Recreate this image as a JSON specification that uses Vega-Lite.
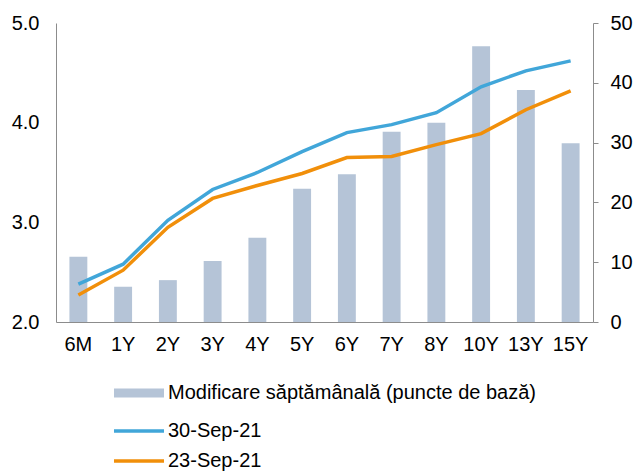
{
  "$schema": "https://vega.github.io/schema/vega-lite/v6.json",
  "autosize": "none",
  "width": 537,
  "height": 299,
  "padding": {"left": 56, "top": 23, "right": 41, "bottom": 149},
  "background": "white",
  "config": {
    "view": {"stroke": null},
    "font": "Liberation Sans",
    "axis": {"grid": false, "domainColor": "#8c8c8c", "tickColor": "#8c8c8c", "labelFontSize": 20, "labelColor": "#000", "labelFont": "Liberation Sans", "title": null}
  },
  "data": {
    "values": [
      {"tenor": "6M", "chg": 10.9, "s30": 2.38, "s23": 2.27},
      {"tenor": "1Y", "chg": 5.9, "s30": 2.58, "s23": 2.52},
      {"tenor": "2Y", "chg": 7.0, "s30": 3.02, "s23": 2.95},
      {"tenor": "3Y", "chg": 10.2, "s30": 3.33, "s23": 3.24},
      {"tenor": "4Y", "chg": 14.1, "s30": 3.50, "s23": 3.37},
      {"tenor": "5Y", "chg": 22.3, "s30": 3.71, "s23": 3.49},
      {"tenor": "6Y", "chg": 24.7, "s30": 3.90, "s23": 3.65},
      {"tenor": "7Y", "chg": 31.8, "s30": 3.98, "s23": 3.66},
      {"tenor": "8Y", "chg": 33.3, "s30": 4.10, "s23": 3.78},
      {"tenor": "10Y", "chg": 46.1, "s30": 4.36, "s23": 3.89},
      {"tenor": "13Y", "chg": 38.8, "s30": 4.52, "s23": 4.13},
      {"tenor": "15Y", "chg": 29.9, "s30": 4.62, "s23": 4.32}
    ]
  },
  "encoding": {
    "x": {
      "field": "tenor", "type": "nominal", "sort": null,
      "scale": {"paddingInner": 0.6, "paddingOuter": 0.3},
      "axis": {"labelAngle": 0, "ticks": false, "labelPadding": 12}
    }
  },
  "layer": [
    {
      "transform": [{"calculate": "'Modificare săptămânală (puncte de bază)'", "as": "series"}],
      "mark": {"type": "bar"},
      "encoding": {
        "y": {
          "field": "chg", "type": "quantitative",
          "scale": {"domain": [0, 50]},
          "axis": {"orient": "right", "values": [0, 10, 20, 30, 40, 50], "tickSize": 5, "labelPadding": 12, "format": "d"}
        },
        "color": {
          "field": "series", "type": "nominal",
          "scale": {"domain": ["Modificare săptămânală (puncte de bază)", "30-Sep-21", "23-Sep-21"], "range": ["#b5c4d7", "#41a6d9", "#f18f0a"]}
        }
      }
    },
    {
      "transform": [
        {"fold": ["s30", "s23"], "as": ["key", "val"]},
        {"calculate": "datum.key == 's30' ? '30-Sep-21' : '23-Sep-21'", "as": "series"}
      ],
      "mark": {"type": "line", "strokeWidth": 3.5},
      "encoding": {
        "y": {
          "field": "val", "type": "quantitative",
          "scale": {"domain": [2, 5]},
          "axis": {"orient": "left", "values": [2, 3, 4, 5], "ticks": false, "labelPadding": 17, "format": ".1f"}
        },
        "color": {
          "field": "series", "type": "nominal",
          "legend": {
            "orient": "none", "legendX": 73, "legendY": 360, "direction": "vertical", "title": null,
            "symbolType": "M-3,0H3", "symbolSize": 278, "labelFontSize": 20, "labelFont": "Liberation Sans", "labelColor": "#000",
            "labelOffset": 19, "rowPadding": 10, "labelLimit": 500,
            "encode": {
              "symbols": {"update": {"fill": {"value": "transparent"}, "stroke": {"scale": "color", "field": "value"}, "strokeWidth": {"signal": "datum.value == '30-Sep-21' || datum.value == '23-Sep-21' ? 3.5 : 9"}, "strokeCap": {"value": "butt"}}}
            }
          }
        }
      }
    }
  ],
  "resolve": {"scale": {"y": "independent"}}
}
